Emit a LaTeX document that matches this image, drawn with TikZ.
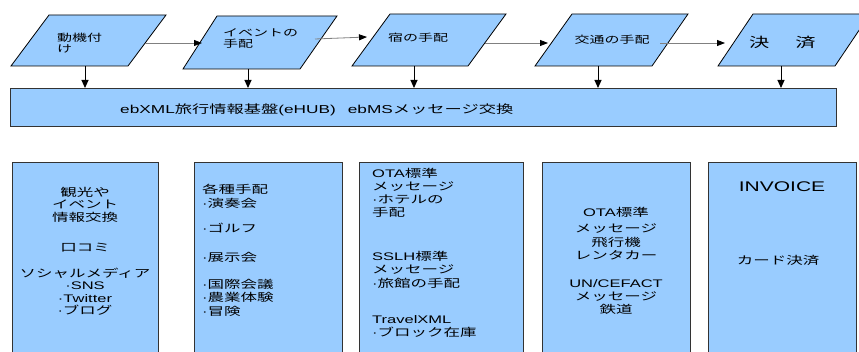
\documentclass[tikz,border=0pt]{standalone}
\usepackage{fontspec}
\setmainfont[FakeStretch=1.5]{Noto Sans CJK JP}
\newfontfamily\lf[FakeStretch=1.5]{Liberation Sans}
\newcommand{\dt}{{\lf ·}}
\usetikzlibrary{arrows.meta}
\definecolor{boxblue}{HTML}{99CCFF}
\definecolor{linegray}{HTML}{808080}
\definecolor{edgegray}{HTML}{333333}
\tikzset{
  shapefill/.style={fill=boxblue, draw=black, line width=0.8pt},
  boxfill/.style={fill=boxblue, draw=edgegray, line width=0.8pt, inner sep=0pt, anchor=north west},
  down/.style={draw=black, line width=1pt, -{Triangle[length=8pt,width=7pt]}},
  flow/.style={draw=linegray, line width=0.8pt, -{Triangle[length=8pt,width=6pt,color=black]}},
  ptxt/.style={inner sep=0pt, font=\fontsize{10}{11}\selectfont},
  btxt/.style={inner sep=0pt, font=\fontsize{11}{13}\selectfont},
}
\begin{document}
\begin{tikzpicture}[x=1pt,y=-1pt]
\useasboundingbox (0,0) rectangle (859,352);
\clip (0,0) rectangle (859,352);
% parallelograms
\fill[white] (0,0) rectangle (859,352);
\draw[shapefill] (49,15) -- (166,15) -- (128,66) -- (11,66) -- cycle;
\draw[shapefill] (217,16) -- (337,16) -- (300,69) -- (183,69) -- cycle;
\draw[shapefill] (390,14) -- (506,14) -- (468,66) -- (352,66) -- cycle;
\draw[shapefill] (572,14) -- (688,14) -- (652,66) -- (535,66) -- cycle;
\draw[shapefill] (753,14) -- (870,14) -- (835,66) -- (718,66) -- cycle;
\node[ptxt, anchor=north west, align=left] (t1) at (57,33) {動機付\\け};
\node[ptxt, anchor=north west, align=left] (t2) at (223,28) {イベントの\\手配};
\node[ptxt, anchor=west] (t3) at (388,38) {宿の手配};
\node[ptxt] (t4) at (612,40) {交通の手配};
\node[inner sep=0pt, anchor=west, font=\fontsize{13.5}{15}\selectfont] (t5) at (749,42) {決\hspace{26pt}済};
% bar
\node[boxfill, minimum width=826pt, minimum height=38pt] (bar) at (10,88) {};
\node[inner sep=0pt, anchor=west, font=\fontsize{11.5}{13}\selectfont] (bartxt) at (120,110)
  {{\lf ebXML}旅行情報基盤{\lf (eHUB)}\hspace{12pt}{\lf ebMS}メッセージ交換};
% connector points
\coordinate (p1s) at (85,66);
\coordinate (p2s) at (248,69);
\coordinate (p3s) at (414,66);
\coordinate (p4s) at (598,66);
\coordinate (p5s) at (781,66);
\coordinate (p1e) at (145,43);
\coordinate (p2w) at (202,43);
\coordinate (p2e) at (315,39);
\coordinate (p3w) at (367,37);
\coordinate (p3e) at (485,43);
\coordinate (p4w) at (548,43);
\coordinate (p4e) at (660,43);
\coordinate (p5w) at (725,43);
\foreach \p in {p1s,p2s,p3s,p4s,p5s} \draw[down] (\p) -- (\p |- bar.north);
\draw[flow] (p1e) -- (p2w);
\draw[flow] (p2e) -- (p3w);
\draw[flow] (p3e) -- (p4w);
\draw[flow] (p4e) -- (p5w);
% lower boxes
\node[boxfill, minimum width=146pt, minimum height=220pt] (b1) at (12,162) {};
\node[boxfill, minimum width=148pt, minimum height=220pt] (b2) at (194,162) {};
\node[boxfill, minimum width=164pt, minimum height=220pt] (b3) at (359,162) {};
\node[boxfill, minimum width=148pt, minimum height=220pt] (b4) at (542,162) {};
\node[boxfill, minimum width=148pt, minimum height=220pt] (b5) at (708,162) {};
\node[btxt, anchor=north, align=center, font=\fontsize{11}{12.5}\selectfont] (b1t) at (85,187)
  {観光や\\イベント\\情報交換\\[17.5pt]口コミ\\[13.5pt]ソシャルメディア\\\dt{\lf SNS}\\\dt{\lf Twitter}\\\dt ブログ};
\node[btxt, anchor=north west, align=left, font=\fontsize{11}{13.5}\selectfont] (b2t) at (202,184)
  {各種手配\\\dt 演奏会\\[11.5pt]\dt ゴルフ\\[15.5pt]\dt 展示会\\[13.5pt]\dt 国際会議\\\dt 農業体験\\\dt 冒険};
\node[btxt, anchor=north west, align=left] (b3t) at (372,168)
  {{\lf OTA}標準\\メッセージ\\\dt ホテルの\\手配\\[31pt]{\lf SSLH}標準\\メッセージ\\[1pt]\dt 旅館の手配\\[23pt]{\lf TravelXML}\\\dt ブロック在庫};
\node[btxt, anchor=north, align=center] (b4t) at (616,207)
  {{\lf OTA}標準\\[3pt]メッセージ\\[1pt]飛行機\\レンタカー\\[15pt]{\lf UN/CEFACT}\\メッセージ\\鉄道};
\node[inner sep=0pt, font=\fontsize{14}{16}\selectfont\lf] (b5a) at (782,187) {INVOICE};
\node[btxt] (b5b) at (778,260) {カード決済};
\end{tikzpicture}
\end{document}
